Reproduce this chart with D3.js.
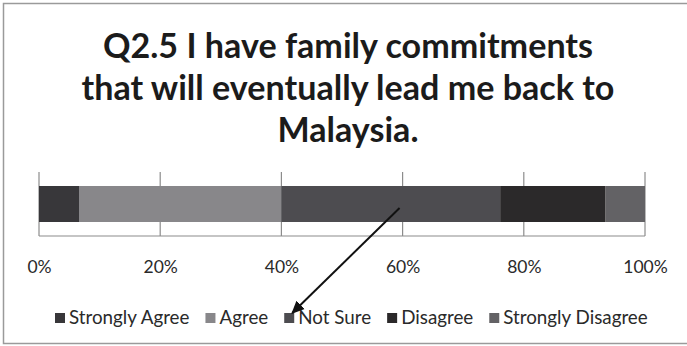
<!DOCTYPE html>
<html>
<head>
<meta charset="utf-8">
<script src="https://cdn.jsdelivr.net/npm/d3@7"></script>
<style>
  html, body { margin: 0; padding: 0; background: #fff; }
  svg { display: block; }
</style>
</head>
<body>
<script>
// Survey responses (percent of respondents)
const categories = ["Strongly Agree", "Agree", "Not Sure", "Disagree", "Strongly Disagree"];
const values = [6.6, 33.4, 36.1, 17.4, 6.5];
const colors = ["#38373a", "#88878a", "#4d4c50", "#2b292a", "#636265"];
const tickValues = [0, 20, 40, 60, 80, 100];
const titleLines = ["Q2.5 I have family commitments", "that will eventually lead me back to", "Malaysia."];

const W = 687, H = 346;
const svg = d3.select("body").append("svg").attr("width", W).attr("height", H);
svg.append("rect").attr("width", W).attr("height", H).attr("fill", "#fff");

// frame (left, top, bottom edges visible)
svg.append("path")
  .attr("d", `M${W + 5},3.5 H3.5 V${H - 2.5} H${W + 5}`)
  .attr("fill", "none").attr("stroke", "#9a9a9a").attr("stroke-width", 1.5);

const font = "Lato, 'Open Sans', sans-serif";

// title
const title = svg.append("g").attr("font-family", font).attr("font-weight", 700)
  .attr("fill", "#1b1b1b").attr("text-anchor", "middle");
const tl = title.selectAll("text").data(titleLines).join("text")
  .attr("x", 348).attr("y", (d, i) => 58 + i * 42)
  .attr("font-size", 30).text(d => d);
// scale the title so the second line spans its intended width
const w2 = tl.nodes()[1].getComputedTextLength();
tl.attr("font-size", 30 * 533 / w2);

// scales
const x = d3.scaleLinear().domain([0, 100]).range([39, 645]);
const barTop = 186, barBottom = 222, gridTop = 172, gridBottom = 236;

// gridlines
svg.append("g").selectAll("line").data(tickValues).join("line")
  .attr("x1", d => x(d)).attr("x2", d => x(d))
  .attr("y1", gridTop).attr("y2", gridBottom)
  .attr("stroke", "#8c8c8c").attr("stroke-width", 1.2);

// stacked bar segments
let cum = 0;
const segs = values.map((v, i) => { const s = { start: cum, end: cum + v, i }; cum += v; return s; });
svg.append("g").selectAll("rect").data(segs).join("rect")
  .attr("x", d => x(d.start)).attr("width", d => x(d.end) - x(d.start))
  .attr("y", barTop).attr("height", barBottom - barTop)
  .attr("fill", d => colors[d.i]);

// axis baseline
svg.append("line").attr("x1", x(0)).attr("x2", x(100))
  .attr("y1", gridBottom).attr("y2", gridBottom)
  .attr("stroke", "#8c8c8c").attr("stroke-width", 1.2);

// tick labels
const axis = d3.axisBottom(x).tickValues(tickValues).tickFormat(d => d + "%").tickSize(0).tickPadding(0);
const ag = svg.append("g").attr("transform", `translate(0,${gridBottom})`).call(axis);
ag.select(".domain").remove();
ag.selectAll("text").attr("font-family", font).attr("font-size", 17.5)
  .attr("fill", "#2a2a2a").attr("dy", null).attr("y", 37);

// legend: swatch, 4px gap, label, gap to next entry
const sw = 10, swGap = 4, gap = 16, legendLeft = 55, legendRight = 648;
const lg = svg.append("g").attr("font-family", font).attr("font-size", 17).attr("fill", "#2a2a2a");
const items = lg.selectAll("g").data(categories).join("g");
items.append("rect").attr("width", sw).attr("height", sw).attr("y", -10.5)
  .attr("fill", (d, i) => colors[i]);
items.append("text").attr("x", sw + swGap).attr("y", 0).text(d => d);
const textW = () => items.nodes().map(n => d3.select(n).select("text").node().getComputedTextLength());
const fixed = categories.length * (sw + swGap) + gap * (categories.length - 1);
const k = (legendRight - legendLeft - fixed) / d3.sum(textW());
lg.attr("font-size", 17 * k);
const tw = textW();
let lx = legendLeft;
const legendPos = [];
items.each(function (d, i) {
  d3.select(this).attr("transform", `translate(${lx},323.5)`);
  legendPos.push(lx);
  lx += sw + swGap + tw[i] + gap;
});

// arrow from the "Not Sure" segment to its legend entry
const defs = svg.append("defs");
defs.append("marker").attr("id", "arrowhead").attr("viewBox", "0 0 10 10")
  .attr("refX", 9).attr("refY", 5).attr("markerWidth", 6.5).attr("markerHeight", 6.5)
  .attr("markerUnits", "strokeWidth")
  .attr("orient", "auto")
  .append("path").attr("d", "M0,0.5 L10,5 L0,9.5 z").attr("fill", "#111");
svg.append("line")
  .attr("x1", x(59.5)).attr("y1", barTop + 22)
  .attr("x2", legendPos[2] + 8).attr("y2", 313)
  .attr("stroke", "#111").attr("stroke-width", 2)
  .attr("marker-end", "url(#arrowhead)");
</script>
</body>
</html>
